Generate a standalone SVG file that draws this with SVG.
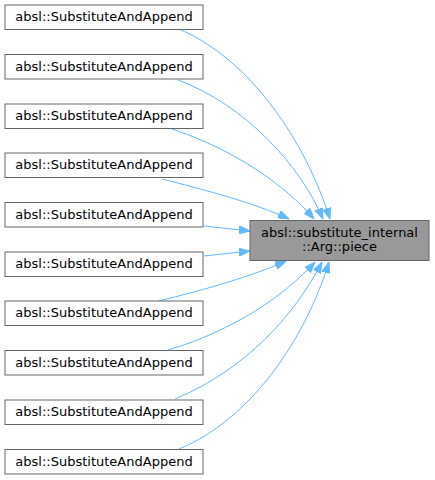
<svg xmlns="http://www.w3.org/2000/svg" width="435" height="480" viewBox="0 0 435 480">
<defs>
<style>
.n rect{fill:#ffffff;stroke:#666666;stroke-width:1}
.c rect{fill:#999999;stroke:#666666;stroke-width:1}
text{font-family:"DejaVu Sans",sans-serif;font-size:13px;fill:#000000;text-anchor:middle}
.e path{fill:none;stroke:#63b8ff;stroke-width:1;marker-end:url(#ah)}
</style>
<marker id="ah" markerUnits="userSpaceOnUse" markerWidth="11" markerHeight="8" refX="11" refY="4" orient="auto" viewBox="0 0 11 8">
<path d="M0,0 L11,4 L0,8 z" fill="#63b8ff" stroke="#63b8ff"/>
</marker>
</defs>
<rect width="435" height="480" fill="#ffffff"/>
<g id="edges" class="e">
<path d="M181,30 C250,60 305,140 330,219"/>
<path d="M178,80 C245,105 300,165 323,219"/>
<path d="M172,129 C235,150 285,185 314,219"/>
<path d="M162,179 C205,190 255,203 289,219"/>
<path d="M204,226 L250,231"/>
<path d="M204,256 L250,251"/>
<path d="M158,301 C205,290 255,275 286,261"/>
<path d="M168,350 C235,330 285,295 315,262"/>
<path d="M175,399 C245,370 295,315 322,262"/>
<path d="M179,449 C250,420 305,340 329,262"/>
</g>
<g id="center" class="c">
<rect x="250" y="220.5" width="179" height="40"/>
<text x="339.5" y="236.5">absl::substitute_internal</text>
<text x="339.5" y="250.5">::Arg::piece</text>
</g>
<g id="n1" class="n"><rect x="5" y="5" width="198" height="24.5"/><text x="104" y="21">absl::SubstituteAndAppend</text></g>
<g id="n2" class="n"><rect x="5" y="54.5" width="198" height="24.5"/><text x="104" y="70.5">absl::SubstituteAndAppend</text></g>
<g id="n3" class="n"><rect x="5" y="104" width="198" height="24.5"/><text x="104" y="120">absl::SubstituteAndAppend</text></g>
<g id="n4" class="n"><rect x="5" y="153" width="198" height="24.5"/><text x="104" y="169">absl::SubstituteAndAppend</text></g>
<g id="n5" class="n"><rect x="5" y="202.5" width="198" height="24.5"/><text x="104" y="218.5">absl::SubstituteAndAppend</text></g>
<g id="n6" class="n"><rect x="5" y="252" width="198" height="24.5"/><text x="104" y="268">absl::SubstituteAndAppend</text></g>
<g id="n7" class="n"><rect x="5" y="301" width="198" height="24.5"/><text x="104" y="317">absl::SubstituteAndAppend</text></g>
<g id="n8" class="n"><rect x="5" y="350.5" width="198" height="24.5"/><text x="104" y="366.5">absl::SubstituteAndAppend</text></g>
<g id="n9" class="n"><rect x="5" y="400" width="198" height="24.5"/><text x="104" y="416">absl::SubstituteAndAppend</text></g>
<g id="n10" class="n"><rect x="5" y="449.5" width="198" height="24.5"/><text x="104" y="465.5">absl::SubstituteAndAppend</text></g>
</svg>
